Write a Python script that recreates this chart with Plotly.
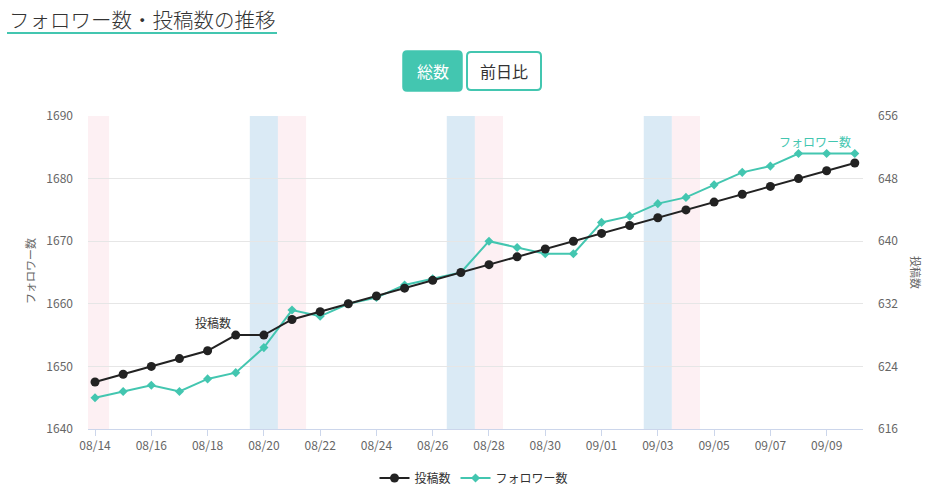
import datetime
import plotly.graph_objects as go

# --- data ---
dates = [
    "2022-08-14", "2022-08-15", "2022-08-16", "2022-08-17", "2022-08-18", "2022-08-19",
    "2022-08-20", "2022-08-21", "2022-08-22", "2022-08-23", "2022-08-24", "2022-08-25",
    "2022-08-26", "2022-08-27", "2022-08-28", "2022-08-29", "2022-08-30", "2022-08-31",
    "2022-09-01", "2022-09-02", "2022-09-03", "2022-09-04", "2022-09-05", "2022-09-06",
    "2022-09-07", "2022-09-08", "2022-09-09", "2022-09-10",
]

# 投稿数 (右軸)
posts = [622, 623, 624, 625, 626, 628, 628, 630, 631, 632, 633, 634, 635, 636,
         637, 638, 639, 640, 641, 642, 643, 644, 645, 646, 647, 648, 649, 650]

# フォロワー数 (左軸)
followers = [1645, 1646, 1647, 1646, 1648, 1649, 1653, 1659, 1658, 1660, 1661, 1663, 1664, 1665,
             1670, 1669, 1668, 1668, 1673, 1674, 1676, 1677, 1679, 1681, 1682, 1684, 1684, 1684]

saturdays = ["2022-08-20", "2022-08-27", "2022-09-03"]
sundays = ["2022-08-14", "2022-08-21", "2022-08-28", "2022-09-04"]

left_ticks = [1640, 1650, 1660, 1670, 1680, 1690]
right_ticks = [616, 624, 632, 640, 648, 656]

TEAL = "#43c6b0"
FONT = "Noto Sans CJK JP"

# --- layout geometry (pixels) ---
W, H = 932, 501
PL, PR, PT, PB = 88, 863, 116, 429


def px(x):
    return (x - PL) / (PR - PL)


def py(y):
    return (PB - y) / (PB - PT)


def rounded_rect(x0, y0, x1, y1, r=4):
    # ピクセル指定の角丸矩形を paper 座標の path に変換
    rx = r / (PR - PL)
    ry = r / (PB - PT)
    a, b = px(x0), px(x1)
    t, u = py(y0), py(y1)
    return (f"M {a + rx},{t} L {b - rx},{t} Q {b},{t} {b},{t - ry} "
            f"L {b},{u + ry} Q {b},{u} {b - rx},{u} "
            f"L {a + rx},{u} Q {a},{u} {a},{u + ry} "
            f"L {a},{t - ry} Q {a},{t} {a + rx},{t} Z")


fig = go.Figure()

fig.add_trace(go.Scatter(
    x=dates, y=posts, name="投稿数", yaxis="y2",
    mode="lines+markers",
    line=dict(color="#222222", width=2),
    marker=dict(symbol="circle", size=9, color="#222222"),
))
fig.add_trace(go.Scatter(
    x=dates, y=followers, name="フォロワー数",
    mode="lines+markers",
    line=dict(color=TEAL, width=2),
    marker=dict(symbol="diamond", size=7, color=TEAL),
))

shapes = []
# 土日の背景
half_day = datetime.timedelta(hours=12)
for d, col in [(d, "#daeaf5") for d in saturdays] + [(d, "#fdf0f3") for d in sundays]:
    dt = datetime.datetime.fromisoformat(d)
    shapes.append(dict(type="rect", xref="x", yref="paper",
                       x0=(dt - half_day).isoformat(), x1=(dt + half_day).isoformat(),
                       y0=0, y1=1, fillcolor=col, line=dict(width=0), layer="below"))

# タイトル下線
shapes.append(dict(type="line", xref="paper", yref="paper",
                   x0=px(7), x1=px(277), y0=py(33), y1=py(33),
                   line=dict(color=TEAL, width=2)))
# ボタン
shapes.append(dict(type="path", xref="paper", yref="paper",
                   path=rounded_rect(403, 51, 462, 91),
                   fillcolor=TEAL, line=dict(color=TEAL, width=1.5)))
shapes.append(dict(type="path", xref="paper", yref="paper",
                   path=rounded_rect(467, 52, 541, 90),
                   fillcolor="white", line=dict(color=TEAL, width=2)))

annotations = [
    dict(text="フォロワー数・投稿数の推移", xref="paper", yref="paper",
         x=px(7), y=py(19), xanchor="left", yanchor="middle", showarrow=False,
         font=dict(size=20.5, color="#333333", family=FONT, weight=300)),
    dict(text="総数", xref="paper", yref="paper", x=px(432.5), y=py(71),
         xanchor="center", yanchor="middle", showarrow=False,
         font=dict(size=16, color="white", family=FONT)),
    dict(text="前日比", xref="paper", yref="paper", x=px(504), y=py(71),
         xanchor="center", yanchor="middle", showarrow=False,
         font=dict(size=16, color="#333333", family=FONT)),
    dict(text="フォロワー数", xref="paper", yref="paper", x=px(30), y=py(271),
         textangle=-90, xanchor="center", yanchor="middle", showarrow=False,
         font=dict(size=11, color="#666666", family=FONT)),
    dict(text="投稿数", xref="paper", yref="paper", x=px(916), y=py(272),
         textangle=90, xanchor="center", yanchor="middle", showarrow=False,
         font=dict(size=11, color="#666666", family=FONT)),
    dict(text="投稿数", x=dates[5], y=posts[5], yref="y2",
         xshift=-23, yshift=13, showarrow=False,
         font=dict(size=12, color="#333333", family=FONT)),
    dict(text="フォロワー数", x=dates[-1], y=followers[-1], yref="y",
         xshift=-40, yshift=12, showarrow=False,
         font=dict(size=12, color=TEAL, family=FONT)),
]

fig.update_layout(
    width=W, height=H,
    margin=dict(l=PL, r=W - PR, t=PT, b=H - PB, autoexpand=False),
    paper_bgcolor="white", plot_bgcolor="white",
    font=dict(family=FONT, color="#666666", size=12),
    showlegend=True,
    legend=dict(orientation="h", x=px(474), xanchor="center",
                yref="container", y=1 - 478 / H, yanchor="middle",
                font=dict(size=12, color="#333333", family=FONT),
                itemwidth=30),
    xaxis=dict(
        type="date",
        range=["2022-08-13 18:00", "2022-09-10 07:00"],
        tick0="2022-08-14", dtick=2 * 86400000, tickformat="%m/%d",
        showgrid=False, showline=True, linecolor="#ccd6eb", linewidth=1,
        ticks="outside", ticklen=6, tickcolor="#ccd6eb",
        tickfont=dict(size=12, color="#666666"),
        fixedrange=True,
    ),
    yaxis=dict(
        range=[1640, 1690], tickvals=left_ticks,
        showgrid=True, gridcolor="#e6e6e6", zeroline=False,
        tickfont=dict(size=12, color="#666666"), ticklabelstandoff=14,
    ),
    yaxis2=dict(
        range=[616, 656], tickvals=right_ticks, overlaying="y", side="right",
        showgrid=False, zeroline=False,
        tickfont=dict(size=12, color="#666666"), ticklabelstandoff=14,
    ),
    shapes=shapes,
    annotations=annotations,
)

fig.write_html("out.html", config={"displayModeBar": False},
               post_script="document.body.style.margin='0';")
